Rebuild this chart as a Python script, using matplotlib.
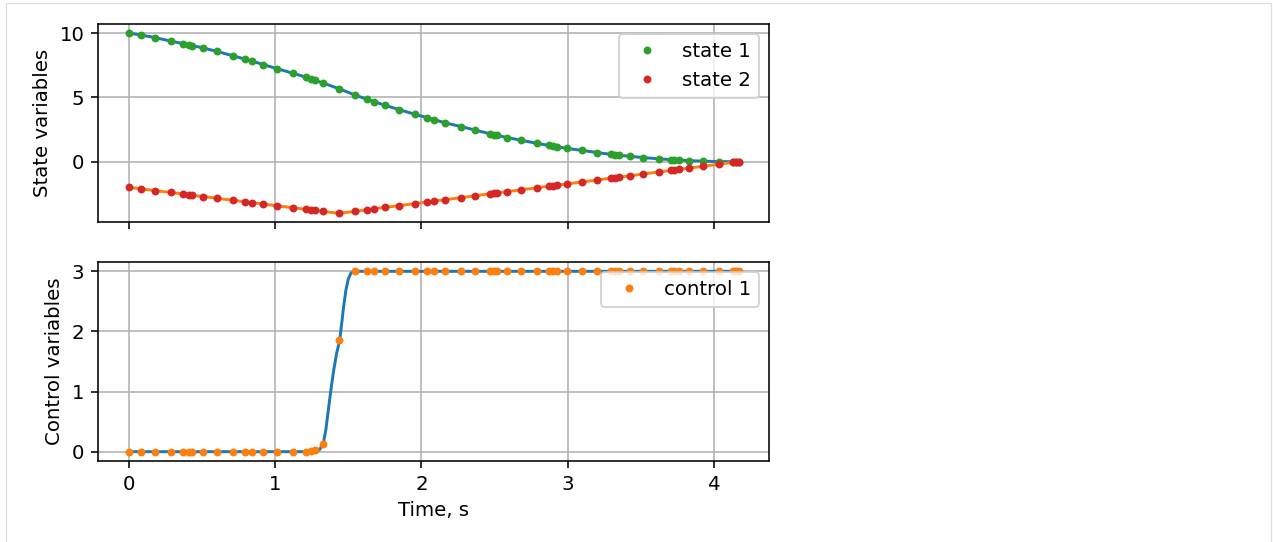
import numpy as np
import matplotlib
matplotlib.use("Agg")
import matplotlib.pyplot as plt
from matplotlib.patches import Rectangle

# collocation times, s
t = [0.0, 0.082, 0.178, 0.287, 0.371, 0.412, 0.435, 0.510, 0.601, 0.713,
     0.793, 0.843, 0.918, 1.016, 1.123, 1.210, 1.244, 1.271, 1.328, 1.437,
     1.546, 1.626, 1.676, 1.751, 1.850, 1.959, 2.041, 2.086, 2.164, 2.272,
     2.367, 2.470, 2.497, 2.515, 2.588, 2.679, 2.793, 2.873, 2.896, 2.925,
     2.998, 3.094, 3.203, 3.294, 3.322, 3.351, 3.422, 3.515, 3.627, 3.704,
     3.727, 3.757, 3.832, 3.925, 4.037, 4.126, 4.148, 4.167]

state1 = [10.0, 9.84, 9.65, 9.37, 9.18, 9.08, 9.02, 8.84, 8.57, 8.23,
          7.97, 7.82, 7.55, 7.22, 6.87, 6.57, 6.44, 6.32, 6.11, 5.67,
          5.18, 4.86, 4.67, 4.38, 4.04, 3.67, 3.41, 3.27, 3.01, 2.73,
          2.45, 2.17, 2.10, 2.05, 1.87, 1.67, 1.42, 1.26, 1.21, 1.16,
          1.03, 0.88, 0.71, 0.57, 0.54, 0.50, 0.42, 0.32, 0.22, 0.16,
          0.15, 0.13, 0.08, 0.04, 0.01, 0.0, 0.0, 0.0]

state2 = [-2.0, -2.1, -2.25, -2.39, -2.51, -2.58, -2.61, -2.71, -2.84, -3.0,
          -3.11, -3.18, -3.29, -3.43, -3.58, -3.70, -3.75, -3.79, -3.87, -4.01,
          -3.86, -3.74, -3.66, -3.55, -3.41, -3.25, -3.13, -3.06, -2.95, -2.79,
          -2.65, -2.49, -2.45, -2.43, -2.32, -2.19, -2.02, -1.90, -1.87, -1.83,
          -1.72, -1.58, -1.42, -1.28, -1.24, -1.20, -1.10, -0.96, -0.79, -0.68,
          -0.65, -0.60, -0.49, -0.36, -0.19, -0.06, -0.03, 0.0]

control1 = [0.0, 0.0, 0.0, 0.0, 0.0, 0.0, 0.0, 0.0, 0.0, 0.0,
            0.0, 0.0, 0.0, 0.0, 0.0, 0.0, 0.01, 0.03, 0.13, 1.85,
            3.0, 3.0, 3.0, 3.0, 3.0, 3.0, 3.0, 3.0, 3.0, 3.0,
            3.0, 3.0, 3.0, 3.0, 3.0, 3.0, 3.0, 3.0, 3.0, 3.0,
            3.0, 3.0, 3.0, 3.0, 3.0, 3.0, 3.0, 3.0, 3.0, 3.0,
            3.0, 3.0, 3.0, 3.0, 3.0, 3.0, 3.0, 3.0]

# interpolated control curve through the switch
u_curve_t = [1.271, 1.302, 1.329, 1.347, 1.363, 1.381, 1.400, 1.420,
             1.441, 1.455, 1.468, 1.484, 1.500, 1.518, 1.541]
u_curve = [0.02, 0.03, 0.13, 0.37, 0.68, 1.02, 1.35, 1.63,
           1.85, 2.13, 2.41, 2.69, 2.87, 2.97, 3.0]

W, H, DPI = 1273, 542, 142

tt = np.array(t)
uu = np.array(control1)
before = tt < 1.27
after = tt > 1.55
u_line_t = np.concatenate([tt[before], u_curve_t, tt[after]])
u_line = np.concatenate([uu[before], u_curve, uu[after]])

fig = plt.figure(figsize=(W / DPI, H / DPI), dpi=DPI)
ax1 = fig.add_axes([98.3 / W, 1 - 222.3 / H, 670.7 / W, 198.3 / H])
ax2 = fig.add_axes([98.3 / W, 1 - 460.7 / H, 670.7 / W, 198.4 / H], sharex=ax1)

ax1.plot(t, state1)
ax1.plot(t, state2)
ax1.plot(t, state1, '.', label='state 1')
ax1.plot(t, state2, '.', label='state 2')
ax1.set_ylabel('State variables')
ax1.legend(loc='upper right')
ax1.grid(True)
ax1.tick_params(labelbottom=False)

ax2.plot(u_line_t, u_line)
ax2.plot(t, control1, '.', label='control 1')
ax2.set_ylabel('Control variables')
ax2.set_xlabel('Time, s')
ax2.legend(loc='upper right')
ax2.grid(True)

# notebook output frame
fig.patches.append(Rectangle((6 / W, -0.02), 1265 / W, 1.02 - 3 / H,
                             transform=fig.transFigure, fill=False,
                             edgecolor='#dddddd', lw=0.6))

fig.savefig('out.png', dpi=DPI)
